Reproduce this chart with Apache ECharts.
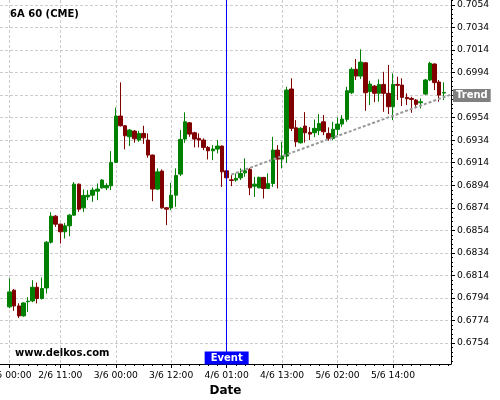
<!DOCTYPE html>
<html><head><meta charset="utf-8">
<script src="https://cdn.jsdelivr.net/npm/echarts@6/dist/echarts.min.js"></script>
<style>html,body{margin:0;padding:0;background:#fff}#c{width:500px;height:400px}</style>
</head><body><div id="c"></div>
<script>
// Hourly candles of 6A 60 (CME), bar index 0..94
const openV = [0.67861,0.68009,0.67869,0.67781,0.67907,0.67914,0.68035,0.67935,0.68029,0.68435,
0.68666,0.68595,0.68527,0.68580,0.68675,0.68950,0.68740,0.68837,0.68852,0.68888,
0.68917,0.68917,0.68935,0.69143,0.69554,0.69468,0.69370,0.69421,0.69341,0.69400,
0.69341,0.69208,0.68906,0.69066,0.68740,0.68740,0.68852,0.69039,0.69350,0.69494,
0.69406,0.69356,0.69341,0.69276,0.69246,0.69261,0.69288,0.69068,0.68988,0.68986,
0.69006,0.69050,0.69081,0.68932,0.68917,0.69010,0.68912,0.68956,0.69252,0.69172,
0.69199,0.69794,0.69450,0.69317,0.69465,0.69409,0.69406,0.69425,0.69503,0.69400,
0.69356,0.69436,0.69483,0.69525,0.69761,0.69969,0.69909,0.70027,0.69771,0.69820,
0.69756,0.69835,0.69756,0.69637,0.69835,0.69829,0.69720,0.69711,0.69696,0.69672,
0.69749,0.69874,0.70016,0.69856,0.69758];
const closeV = [0.67994,0.67869,0.67781,0.67896,0.67911,0.68035,0.67935,0.68024,0.68435,0.68666,
0.68595,0.68527,0.68580,0.68675,0.68950,0.68728,0.68850,0.68852,0.68897,0.68906,
0.68986,0.68939,0.69143,0.69554,0.69468,0.69379,0.69430,0.69352,0.69400,0.69361,
0.69208,0.68906,0.69059,0.68740,0.68728,0.68852,0.69027,0.69347,0.69503,0.69394,
0.69350,0.69341,0.69276,0.69246,0.69261,0.69288,0.69059,0.69006,0.68983,0.69001,
0.69045,0.69068,0.68917,0.68950,0.69010,0.68912,0.68956,0.69252,0.69172,0.69199,
0.69785,0.69445,0.69326,0.69445,0.69406,0.69394,0.69445,0.69489,0.69415,0.69356,
0.69436,0.69483,0.69527,0.69779,0.69969,0.69909,0.70033,0.69761,0.69838,0.69756,
0.69835,0.69756,0.69637,0.69835,0.69827,0.69720,0.69708,0.69702,0.69658,0.69681,
0.69874,0.70022,0.69851,0.69740,0.69764];
const lowV = [0.67849,0.67825,0.67763,0.67774,0.67816,0.67902,0.67891,0.67926,0.67980,0.68423,
0.68571,0.68423,0.68468,0.68488,0.68670,0.68704,0.68704,0.68808,0.68793,0.68808,
0.68910,0.68897,0.68897,0.69137,0.69461,0.69258,0.69288,0.69317,0.69326,0.69308,
0.69184,0.68799,0.68897,0.68733,0.68586,0.68719,0.68749,0.69021,0.69317,0.69370,
0.69276,0.69276,0.69252,0.69169,0.69163,0.69223,0.68926,0.68992,0.68932,0.68971,
0.68986,0.69015,0.68852,0.68837,0.68915,0.68823,0.68906,0.68926,0.68912,0.69090,
0.69139,0.69421,0.69281,0.69310,0.69319,0.69341,0.69367,0.69385,0.69385,0.69335,
0.69341,0.69385,0.69459,0.69503,0.69749,0.69874,0.69883,0.69601,0.69652,0.69678,
0.69681,0.69592,0.69572,0.69518,0.69696,0.69643,0.69652,0.69583,0.69622,0.69622,
0.69740,0.69865,0.69785,0.69681,0.69696];
const highV = [0.68115,0.68018,0.67893,0.67902,0.67947,0.68098,0.68077,0.68122,0.68444,0.68701,
0.68675,0.68599,0.68606,0.68684,0.68968,0.68955,0.68903,0.68897,0.68921,0.68956,
0.68995,0.68959,0.69243,0.69629,0.69853,0.69474,0.69439,0.69430,0.69423,0.69468,
0.69400,0.69212,0.69090,0.69081,0.68746,0.68962,0.69090,0.69430,0.69587,0.69501,
0.69415,0.69400,0.69356,0.69288,0.69296,0.69341,0.69292,0.69074,0.69030,0.69045,
0.69090,0.69178,0.69092,0.69015,0.69017,0.69012,0.69045,0.69370,0.69296,0.69326,
0.69814,0.69889,0.69518,0.69456,0.69589,0.69456,0.69523,0.69572,0.69563,0.69454,
0.69503,0.69542,0.69563,0.69814,0.69986,0.70060,0.70146,0.70033,0.69867,0.69829,
0.69880,0.69947,0.70007,0.69933,0.69903,0.69889,0.69756,0.69725,0.69705,0.69711,
0.69883,0.70036,0.70022,0.69874,0.69853];

const tickIndex = [0, 11, 23, 35, 47, 59, 71, 83];
const tickLabels = ['2/6 00:00','2/6 11:00','3/6 00:00','3/6 12:00','4/6 01:00','4/6 13:00','5/6 02:00','5/6 14:00'];
const yTicks = [0.6754,0.6774,0.6794,0.6814,0.6834,0.6854,0.6874,0.6894,0.6914,0.6934,0.6954,0.6974,0.6994,0.7014,0.7034,0.7054];
const yTickLabels = ['0.6754','0.6774','0.6794','0.6814','0.6834','0.6854','0.6874','0.6894','0.6914','0.6934','0.6954','','0.6994','0.7014','0.7034','0.7054'];
const trendX = [48, 95.56];
const trendY = [0.69034, 0.69745];
const eventIndex = 47;
const eventLabel = 'Event';
const trendLabel = 'Trend';

const X_MIN = -2.06, X_MAX = 95.56, Y_MIN = 0.67354, Y_MAX = 0.70584;
const FONT = 'DejaVu Sans';

const candles = openV.map((o, i) => [i, o, closeV[i], lowV[i], highV[i]]);
const yMinor = [];
for (let k = 0; k <= 80; k++) { const v = +(0.6738 + k * 0.0004).toFixed(4); if (v <= Y_MAX) yMinor.push(v); }
const xMinor = [];
const bounds = tickIndex.concat([96]);
for (let j = 0; j < tickIndex.length; j++) {
  for (let t = tickIndex[j] + 2; t < bounds[j + 1] - 0.5; t += 2) xMinor.push(t);
}

const gridLine = { show: true, lineStyle: { color: '#cccccc', width: 1, type: [3, 2] } };
const chart = echarts.init(document.getElementById('c'), null, { renderer: 'canvas' });
chart.setOption({
  animation: false,
  backgroundColor: '#ffffff',
  title: [
    { text: '6A 60 (CME)', left: 10, top: 9, padding: 0,
      textStyle: { fontSize: 10, fontWeight: 'bold', fontFamily: FONT, color: '#000' } },
    { text: 'www.delkos.com', left: 15, top: 348, padding: 0,
      textStyle: { fontSize: 10, fontWeight: 'bold', fontFamily: FONT, color: '#000' } }
  ],
  grid: { left: 0, right: 49, top: 0, bottom: 36, containLabel: false, outerBoundsMode: 'none' },
  xAxis: [{
    type: 'value', min: X_MIN, max: X_MAX, position: 'bottom',
    axisLine: { show: true, onZero: false, lineStyle: { color: '#000', width: 1 } },
    axisTick: { show: true, customValues: tickIndex, length: 4, lineStyle: { color: '#000' } },
    axisLabel: { show: true, customValues: tickIndex, margin: 7, color: '#000', fontSize: 9.2, fontFamily: FONT,
      formatter: v => tickLabels[tickIndex.indexOf(Math.round(v))] || '' },
    splitLine: gridLine,
    name: 'Date', nameLocation: 'middle', nameGap: 20,
    nameTextStyle: { fontSize: 12, fontWeight: 'bold', fontFamily: FONT, color: '#000' }
  }, {
    type: 'value', min: X_MIN, max: X_MAX, position: 'bottom', offset: 0,
    axisLine: { show: false, onZero: false },
    axisTick: { show: true, customValues: xMinor, length: 2, lineStyle: { color: '#000' } },
    axisLabel: { show: false }, splitLine: { show: false }
  }],
  yAxis: [{
    type: 'value', min: Y_MIN, max: Y_MAX, position: 'right',
    axisLine: { show: true, onZero: false, lineStyle: { color: '#000', width: 1 } },
    axisTick: { show: true, customValues: yTicks, length: 4, lineStyle: { color: '#000' } },
    axisLabel: { show: true, customValues: yTicks, margin: 6, color: '#000', fontSize: 9.2, fontFamily: FONT,
      formatter: v => { const i = yTicks.findIndex(t => Math.abs(t - v) < 1e-6); return i >= 0 ? yTickLabels[i] : ''; } },
    splitLine: gridLine
  }, {
    type: 'value', min: Y_MIN, max: Y_MAX, position: 'right', offset: 0,
    axisLine: { show: false, onZero: false },
    axisTick: { show: true, customValues: yMinor, length: 2, lineStyle: { color: '#000' } },
    axisLabel: { show: false }, splitLine: { show: false }
  }],
  series: [{
    type: 'candlestick',
    xAxisIndex: 0, yAxisIndex: 0,
    data: candles,
    encode: { x: 0, y: [1, 2, 3, 4] },
    barWidth: 4,
    itemStyle: { color: '#008000', color0: '#800000', borderColor: '#008000', borderColor0: '#800000', borderWidth: 1 },
    emphasis: { disabled: true },
    markLine: {
      silent: true, symbol: ['none', 'none'], animation: false,
      lineStyle: { color: '#0000ff', width: 1, type: 'solid' },
      label: { show: false },
      data: [{ xAxis: eventIndex }]
    },
    markPoint: {
      silent: true, animation: false,
      data: [{ coord: [eventIndex, Y_MIN], symbol: 'rect', symbolSize: [44, 13], symbolOffset: [0, -6],
        itemStyle: { color: '#0000ff' },
        label: { show: true, position: 'inside', formatter: eventLabel, color: '#fff', fontWeight: 'bold', fontSize: 10, fontFamily: FONT } }]
    }
  }, {
    type: 'line', xAxisIndex: 0, yAxisIndex: 0,
    data: trendX.map((x, i) => [x, trendY[i]]),
    symbol: 'none', silent: true,
    lineStyle: { color: '#999999', width: 2, type: [3, 2] },
    endLabel: { show: true, formatter: trendLabel, distance: 2, offset: [0, 1], color: '#fff', fontWeight: 'bold', fontSize: 10,
      fontFamily: FONT, backgroundColor: '#808080', padding: [2, 3, 1, 3] },
    emphasis: { disabled: true }
  }]
});
</script></body></html>
